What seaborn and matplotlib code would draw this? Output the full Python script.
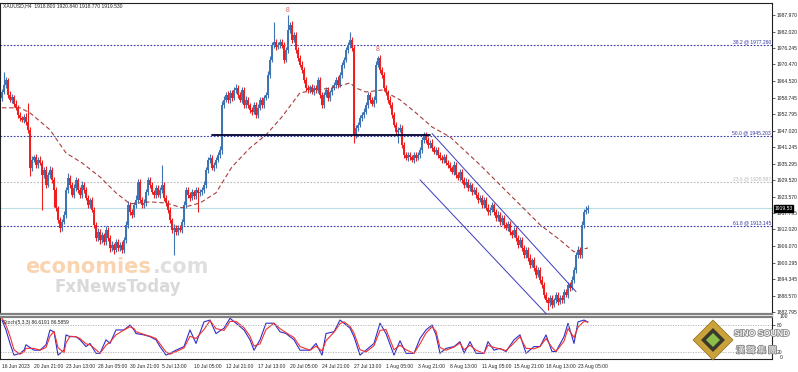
import matplotlib

matplotlib.use("Agg")
import matplotlib.pyplot as plt
import matplotlib.patheffects as pe
import matplotlib.transforms as mtransforms
from matplotlib.patches import Polygon
import numpy as np
import seaborn as sns

sns.set_style("white")
plt.rcParams["font.family"] = ["Liberation Sans", "Noto Sans CJK SC"]

# XAUUSD H4 closes, one per bar (16 Jun 2023 -> 23 Aug 2023)
closes = [
    1960.7, 1963.2, 1965.0, 1959.7, 1957.9, 1959.0, 1956.5, 1955.1, 1952.6, 1951.5,
    1950.8, 1951.9, 1950.1, 1947.3, 1933.8, 1936.7, 1937.7, 1934.9, 1936.7, 1935.6,
    1931.4, 1933.1, 1927.8, 1931.4, 1933.1, 1929.6, 1926.0, 1919.7, 1915.4, 1912.6,
    1914.7, 1917.2, 1926.0, 1930.3, 1927.8, 1924.3, 1926.7, 1929.6, 1926.0, 1924.3,
    1927.8, 1926.0, 1923.2, 1920.7, 1922.5, 1919.0, 1913.7, 1909.0, 1911.2, 1908.3,
    1910.1, 1907.6, 1911.9, 1909.0, 1905.5, 1906.6, 1904.8, 1907.6, 1905.5, 1906.6,
    1904.8, 1908.3, 1913.7, 1920.7, 1918.3, 1917.2, 1920.7, 1922.5, 1928.9, 1922.5,
    1920.7, 1921.4, 1925.3, 1929.6, 1927.8, 1925.3, 1924.3, 1926.7, 1924.3, 1926.0,
    1927.8, 1923.2, 1921.4, 1919.0, 1915.4, 1911.9, 1912.6, 1911.2, 1912.6, 1911.9,
    1914.7, 1920.7, 1926.0, 1924.3, 1923.2, 1925.3, 1923.9, 1926.0, 1925.0, 1925.3,
    1926.0, 1927.8, 1933.1, 1936.7, 1937.4, 1933.8, 1934.9, 1936.7, 1938.4, 1940.2,
    1956.1, 1957.9, 1959.7, 1957.9, 1960.4, 1958.6, 1961.4, 1962.2, 1959.7, 1957.9,
    1961.4, 1956.1, 1957.9, 1956.1, 1954.4, 1953.7, 1956.1, 1952.6, 1955.1, 1957.9,
    1956.1, 1958.6, 1959.7, 1966.8, 1972.1, 1977.4, 1978.4, 1976.7, 1977.4, 1978.4,
    1977.4, 1972.1, 1975.6, 1982.7, 1984.5, 1979.1, 1980.9, 1975.6, 1972.8, 1970.3,
    1968.5, 1965.0, 1962.1, 1961.4, 1962.5, 1960.7, 1962.1, 1961.4, 1965.0, 1959.7,
    1956.1, 1959.7, 1961.4, 1958.6, 1960.7, 1962.1, 1963.2, 1965.0, 1963.2, 1966.8,
    1970.3, 1972.1, 1975.6, 1977.4, 1979.1, 1976.3, 1945.5, 1948.0, 1949.1, 1951.5,
    1952.6, 1953.7, 1956.1, 1959.7, 1957.9, 1956.5, 1957.9, 1970.3, 1972.8, 1968.5,
    1966.8, 1962.1, 1960.7, 1957.9, 1956.1, 1952.6, 1949.1, 1946.6, 1947.3, 1948.0,
    1942.0, 1938.4, 1937.4, 1938.4, 1937.7, 1936.7, 1938.4, 1937.4, 1938.4, 1940.2,
    1943.7, 1945.5, 1943.7, 1942.0, 1942.7, 1940.9, 1939.5, 1940.2, 1938.4, 1937.4,
    1936.7, 1937.7, 1935.6, 1934.9, 1933.8, 1932.4, 1934.9, 1931.4, 1930.3, 1932.4,
    1929.6, 1927.8, 1928.9, 1926.7, 1927.8, 1925.3, 1926.0, 1924.3, 1922.5, 1923.2,
    1920.7, 1922.5, 1919.7, 1918.3, 1919.0, 1920.7, 1918.3, 1916.1, 1917.2, 1914.7,
    1916.1, 1913.7, 1912.6, 1914.0, 1911.2, 1910.1, 1911.9, 1909.0, 1906.6, 1908.3,
    1905.5, 1903.0, 1904.8, 1902.0, 1899.5, 1901.3, 1898.4, 1896.0, 1897.7, 1894.2,
    1892.4, 1888.9, 1887.1, 1886.0, 1887.8, 1885.3, 1887.1, 1888.9, 1886.4, 1887.8,
    1887.1, 1889.9, 1888.9, 1892.4, 1891.3, 1894.2, 1897.7, 1903.0, 1904.8, 1903.0,
    1913.7, 1918.3, 1919.0, 1919.53,
]
first_open = 1958.4

upper_wick = [
    1.2, 4.6, 1.0, 0.8, 1.5, 1.0, 0.7, 1.2, 0.9, 1.1,
    0.8, 1.0, 1.3, 6.7, 1.0, 1.5, 0.8, 1.2, 0.9, 1.4,
    1.0, 1.2, 1.5, 0.8, 1.3, 1.0, 0.9, 1.1, 0.8, 1.0,
    1.2, 1.5, 1.0, 1.8, 0.9, 1.2, 1.4, 1.0, 0.8, 1.1,
    1.3, 0.9, 1.0, 1.2, 0.8, 1.0, 1.1, 0.9, 1.2, 1.0,
    1.1, 0.8, 1.4, 0.9, 1.0, 1.2, 0.8, 1.1, 0.9, 1.0,
    1.2, 1.0, 1.5, 1.3, 1.0, 0.9, 1.2, 1.8, 1.1, 0.9,
    1.0, 1.3, 1.2, 0.9, 1.1, 1.0, 0.8, 1.2, 1.0, 0.9,
    7.0, 1.0, 1.1, 0.9, 1.0, 0.8, 1.2, 1.0, 0.9, 1.1,
    1.0, 1.5, 1.2, 0.9, 1.0, 1.1, 0.8, 1.2, 1.0, 0.9,
    1.1, 1.3, 1.2, 1.0, 1.4, 0.9, 1.0, 1.1, 0.9, 1.2,
    1.5, 1.2, 1.0, 1.3, 0.9, 1.1, 1.0, 1.2, 0.8, 1.0,
    1.1, 0.9, 1.2, 1.0, 0.8, 1.1, 1.0, 0.9, 1.2, 1.0,
    1.0, 1.2, 0.9, 1.5, 1.3, 1.0, 7.0, 1.1, 1.0, 1.2,
    0.9, 1.0, 1.2, 5.3, 0.8, 1.2, 1.0, 0.9, 1.1, 1.0,
    1.2, 0.9, 1.0, 1.1, 0.8, 1.0, 1.2, 0.9, 1.1, 1.0,
    0.9, 1.1, 1.0, 1.2, 0.8, 1.0, 1.1, 0.9, 1.2, 1.0,
    1.1, 1.0, 1.2, 0.9, 3.0, 1.0, 1.2, 0.9, 1.1, 1.0,
    0.9, 1.2, 1.0, 1.1, 0.9, 1.0, 1.2, 1.3, 0.5, 1.0,
    0.9, 1.1, 1.0, 0.8, 1.2, 1.0, 0.9, 1.1, 1.0, 1.2,
    1.0, 0.9, 1.1, 1.0, 1.2, 0.8, 1.0, 1.1, 0.9, 1.0,
    1.2, 1.0, 0.9, 1.1, 1.0, 1.2, 0.8, 1.0, 1.1, 0.9,
    1.0, 1.2, 0.9, 1.1, 1.0, 0.8, 1.2, 1.0, 0.9, 1.1,
    1.0, 0.9, 1.2, 1.0, 1.1, 0.8, 1.0, 1.2, 0.9, 1.0,
    1.1, 1.0, 0.9, 1.2, 1.0, 1.1, 0.8, 1.0, 1.2, 0.9,
    1.0, 1.1, 0.9, 1.2, 1.0, 0.8, 1.1, 1.0, 0.9, 1.2,
    1.0, 0.9, 1.1, 1.0, 1.2, 0.8, 1.0, 1.1, 0.9, 1.0,
    1.2, 1.0, 0.9, 1.1, 1.0, 1.2, 0.8, 1.0, 1.1, 0.9,
    1.0, 1.2, 0.9, 1.1, 1.0, 1.2, 1.0, 1.1, 1.5, 0.9,
    1.2, 1.0, 1.5, 1.3,
]
lower_wick = [
    1.0, 0.8, 1.2, 1.0, 0.9, 1.1, 1.0, 0.8, 1.2, 1.0,
    0.9, 1.1, 1.0, 1.2, 3.0, 1.0, 0.8, 1.2, 1.0, 0.9,
    12.5, 1.0, 1.2, 0.9, 1.1, 1.0, 6.0, 1.2, 1.0, 1.5,
    1.0, 0.9, 1.1, 1.0, 1.2, 0.8, 1.0, 1.1, 0.9, 1.2,
    1.0, 1.1, 0.9, 1.0, 1.2, 0.8, 1.0, 1.1, 0.9, 1.5,
    1.0, 1.2, 0.9, 1.1, 1.3, 1.0, 1.5, 0.9, 1.1, 1.0,
    1.2, 1.0, 0.9, 1.1, 1.0, 1.2, 0.8, 1.0, 1.1, 0.9,
    1.0, 1.2, 0.9, 1.1, 1.0, 0.8, 1.2, 1.0, 0.9, 1.1,
    1.0, 1.2, 0.9, 1.1, 1.0, 1.2, 9.0, 1.0, 1.1, 0.9,
    1.0, 1.2, 0.9, 1.1, 1.0, 0.8, 1.2, 1.0, 6.7, 1.1,
    1.0, 0.9, 1.2, 1.0, 1.1, 0.8, 1.0, 1.2, 0.9, 1.0,
    1.5, 1.0, 0.9, 1.2, 1.0, 1.1, 0.8, 1.0, 1.2, 0.9,
    1.0, 1.2, 0.9, 1.1, 1.0, 1.2, 0.8, 1.0, 1.1, 0.9,
    1.0, 1.2, 0.9, 1.1, 1.0, 0.8, 1.2, 1.0, 0.9, 1.1,
    1.0, 1.2, 0.9, 1.1, 1.0, 1.2, 0.8, 1.0, 1.1, 0.9,
    1.0, 1.2, 0.9, 1.1, 1.0, 0.8, 1.2, 1.0, 0.9, 1.1,
    1.0, 1.2, 0.9, 1.1, 1.0, 1.2, 0.8, 1.0, 1.1, 0.9,
    1.0, 1.2, 0.9, 1.1, 1.0, 1.2, 2.8, 1.0, 1.1, 0.9,
    1.0, 1.2, 0.9, 1.1, 1.0, 0.8, 1.2, 1.0, 0.9, 1.1,
    1.0, 1.2, 0.9, 1.1, 1.0, 1.2, 0.8, 1.0, 4.0, 0.9,
    1.0, 1.2, 0.9, 1.1, 1.0, 0.8, 1.2, 1.0, 0.9, 1.1,
    1.0, 1.2, 0.9, 1.1, 1.0, 1.2, 0.8, 1.0, 1.1, 0.9,
    1.0, 1.2, 0.9, 1.1, 1.0, 0.8, 1.2, 1.0, 0.9, 1.1,
    1.0, 1.2, 0.9, 1.1, 1.0, 1.2, 0.8, 1.0, 1.1, 0.9,
    1.0, 1.2, 0.9, 1.1, 1.0, 0.8, 1.2, 1.0, 0.9, 1.1,
    1.0, 1.2, 0.9, 1.1, 1.0, 1.2, 0.8, 1.0, 1.1, 0.9,
    1.0, 1.2, 0.9, 1.1, 1.0, 0.8, 1.2, 1.0, 0.9, 1.1,
    1.0, 1.2, 0.9, 2.5, 1.0, 1.2, 0.8, 1.0, 1.1, 0.9,
    1.0, 1.2, 0.9, 1.1, 1.0, 0.8, 1.2, 1.0, 0.9, 1.1,
    1.0, 1.2, 0.9, 1.0,
]

# dashed moving average, read at sample bars
ma_idx = [0, 9, 14, 24, 32, 40, 49, 57, 64, 74, 82, 90, 99, 107, 115, 124, 132,
          140, 149, 157, 165, 174, 177, 182, 190, 199, 207, 215, 224, 239, 254,
          269, 279, 286, 293]
ma_val = [1955.1, 1955.1, 1953.3, 1947.3, 1939.1, 1935.6, 1930.6, 1925.0, 1921.1,
          1921.8, 1921.4, 1919.7, 1921.4, 1925.0, 1934.2, 1940.9, 1945.5, 1951.9,
          1960.4, 1961.4, 1962.1, 1963.9, 1962.1, 1960.7, 1961.4, 1957.9, 1953.3,
          1948.3, 1944.8, 1934.9, 1924.3, 1913.7, 1908.3, 1904.1, 1905.5]

# Stochastic (5,3,3)
stoch_idx = [0, 2, 4, 6, 9, 11, 12, 16, 19, 22, 24, 26, 28, 31, 32, 34, 37, 39, 42,
             44, 47, 49, 52, 54, 57, 61, 64, 66, 67, 71, 74, 77, 79, 82, 84, 87, 91,
             94, 97, 101, 104, 107, 111, 114, 117, 121, 124, 126, 129, 132, 136, 139,
             142, 146, 149, 154, 157, 160, 162, 166, 169, 171, 174, 176, 179, 182,
             186, 189, 192, 196, 199, 202, 206, 209, 212, 215, 217, 219, 222, 226,
             229, 231, 234, 237, 241, 243, 246, 249, 252, 256, 259, 262, 266, 269,
             272, 275, 277, 281, 283, 286, 288, 291, 293]
stoch_main = [91, 69, 39, 13, 17, 24, 36, 24, 24, 36, 69, 65, 13, 24, 58, 54, 54,
              47, 32, 39, 17, 17, 47, 39, 69, 69, 80, 69, 61, 58, 54, 47, 32, 13,
              17, 24, 32, 69, 39, 87, 91, 61, 73, 95, 84, 69, 47, 24, 47, 84, 84,
              65, 61, 47, 24, 24, 39, 13, 61, 65, 91, 84, 73, 54, 13, 24, 39, 84,
              61, 13, 45, 17, 17, 50, 69, 80, 58, 17, 28, 32, 43, 17, 43, 17, 17,
              43, 24, 28, 21, 47, 58, 17, 32, 32, 58, 21, 21, 54, 84, 39, 87, 91,
              86.6]
stoch_signal = [95, 80, 55, 25, 15, 20, 28, 28, 24, 30, 55, 66, 30, 18, 40, 55, 54,
                50, 38, 36, 25, 17, 35, 42, 58, 69, 76, 72, 65, 59, 55, 50, 38, 20,
                15, 21, 29, 55, 50, 70, 90, 72, 68, 88, 88, 74, 55, 33, 38, 70, 84,
                72, 63, 52, 32, 24, 33, 22, 45, 64, 83, 87, 77, 62, 25, 20, 34, 68,
                70, 25, 35, 25, 17, 38, 62, 76, 66, 30, 24, 31, 40, 25, 35, 24, 17,
                35, 30, 27, 23, 40, 54, 28, 27, 32, 50, 30, 21, 44, 72, 52, 75, 88,
                86.6]

price_ticks = [1987.970, 1982.020, 1976.245, 1970.470, 1964.520, 1958.745, 1952.795,
               1947.020, 1941.245, 1935.295, 1929.520, 1923.570, 1917.795, 1912.020,
               1906.070, 1900.295, 1894.345, 1888.570, 1882.795]
fib_levels = [1977.260, 1945.203, 1928.887, 1913.145]
fib_labels = ["38.2 @ 1977.260", "50.0 @ 1945.203", "23.6 @ 1928.887", "61.8 @ 1913.145"]
last_price = 1919.53

time_labels = ["16 Jun 2023", "20 Jun 21:00", "23 Jun 13:00", "28 Jun 05:00",
               "30 Jun 21:00", "5 Jul 13:00", "10 Jul 05:00", "12 Jul 21:00",
               "17 Jul 13:00", "20 Jul 05:00", "24 Jul 21:00", "27 Jul 13:00",
               "1 Aug 05:00", "3 Aug 21:00", "8 Aug 13:00", "11 Aug 05:00",
               "15 Aug 21:00", "18 Aug 13:00", "23 Aug 05:00"]

neckline_bars = [105, 214]
neckline_price = 1945.3
channel_upper = ([215, 287], [1946.0, 1890.0])
channel_lower = ([209, 275], [1929.6, 1880.0])
fractal_bars = [143, 188]
fractal_prices = [1989.7, 1975.9]

# ---- figure -------------------------------------------------------------
W, H = 798, 372
SMALL = 3.6
fig = plt.figure(figsize=(W / 100, H / 100), dpi=100)
ax = fig.add_axes([0.0, (H - 314) / H, 772 / W, (314 - 3) / H])
ax2 = fig.add_axes([0.0, (H - 359) / H, 772 / W, (359 - 317) / H])

n = len(closes)
bars = np.arange(n)
opens = np.array([first_open] + closes[:-1])
cl = np.array(closes)
hi = np.maximum(opens, cl) + np.array(upper_wick[:n])
lo = np.minimum(opens, cl) - np.array(lower_wick[:n])
up = cl >= opens
bull, bear = "#3f74b3", "#f01e1e"
colors = np.where(up, bull, bear)

ax.vlines(bars, lo, hi, colors=colors, lw=0.8, zorder=3)
ax.bar(bars, np.maximum(np.abs(cl - opens), 0.3), bottom=np.minimum(opens, cl),
       width=0.85, color=colors, linewidth=0, zorder=4)

sns.lineplot(x=ma_idx, y=ma_val, ax=ax, color="#a83c3c", lw=0.8,
             linestyle=(0, (4, 2.5)), zorder=5)

# fibonacci levels
fib_colors = ["#3535a5", "#3535a5", "#b8b8b8", "#3535a5"]
for lvl, lab, c in zip(fib_levels, fib_labels, fib_colors):
    ax.axhline(lvl, color=c, lw=0.8, ls=(0, (1.5, 1.5)), zorder=2)
    ax.text(384.5, lvl + 0.3, lab, ha="right", va="bottom", fontsize=SMALL, color=c)

ax.axhline(last_price, color="#b8e0e8", lw=0.8, zorder=1)
ax.plot(neckline_bars, [neckline_price] * 2, color="#000033", lw=1.3, zorder=6)
ax.plot(*channel_upper, color="#3a3ac0", lw=0.7, zorder=6)
ax.plot(*channel_lower, color="#3a3ac0", lw=0.7, zorder=6)
for b, p in zip(fractal_bars, fractal_prices):
    ax.text(b, p, "8", ha="center", va="center", fontsize=5, color="#e06060")

ax.set_xlim(-1, 385)
ax.set_ylim(1882.1, 1992.2)
ax.set_xticks([])
ax.yaxis.tick_right()
ax.set_yticks(price_ticks)
ax.set_yticklabels([f"{v:.3f}" for v in price_ticks], fontsize=SMALL)
ax.tick_params(axis="y", length=2, width=0.5, pad=1.2, direction="out")
for s in ax.spines.values():
    s.set_color("#202020")
    s.set_linewidth(0.8)
ax.spines["bottom"].set_color("#808080")
ax.spines["bottom"].set_linewidth(1.6)

trans = mtransforms.blended_transform_factory(ax.transAxes, ax.transData)
ax.text(1.003, last_price, "1919.53", transform=trans, fontsize=SMALL, color="white",
        va="center", ha="left",
        bbox=dict(boxstyle="square,pad=0.15", fc="black", ec="black"))

# watermark
fig.text(25 / W, (H - 273) / H, "economies", fontsize=15, color="#f9c595",
         fontweight="bold", alpha=0.75, family="DejaVu Sans")
fig.text(153 / W, (H - 273) / H, ".com", fontsize=15, color="#d5d5d5",
         fontweight="bold", alpha=0.75, family="DejaVu Sans")
fig.text(55 / W, (H - 292) / H, "FxNewsToday", fontsize=12, color="#d0d0d0",
         fontweight="bold", alpha=0.8, family="DejaVu Sans")

# stochastic panel
sns.lineplot(x=stoch_idx, y=stoch_main, ax=ax2, color="#2f2fc8", lw=0.8)
sns.lineplot(x=stoch_idx, y=stoch_signal, ax=ax2, color="#f03030", lw=0.8)
for lvl in (80, 20):
    ax2.axhline(lvl, color="#b0b0b0", lw=0.6, ls=(0, (1.5, 1.5)))
ax2.set_xlim(-1, 385)
ax2.set_ylim(4.4, 97.8)
ax2.yaxis.tick_right()
ax2.set_yticks([80, 20])
ax2.set_yticklabels(["80", "20"], fontsize=SMALL)
ax2.tick_params(axis="y", length=2, width=0.5, pad=1.2)
ax2.text(1.01, 1.0, "100", transform=ax2.transAxes, fontsize=SMALL, va="center")
ax2.text(1.01, 0.03, "0", transform=ax2.transAxes, fontsize=SMALL, va="center")
ax2.set_xticks(np.arange(0, 16 * len(time_labels), 16))
ax2.set_xticklabels(time_labels, fontsize=SMALL, ha="left")
ax2.tick_params(axis="x", length=2, width=0.5, pad=1.5)
for s in ax2.spines.values():
    s.set_color("#202020")
    s.set_linewidth(0.8)
ax2.spines["top"].set_color("#808080")
ax2.spines["top"].set_linewidth(1.6)
ax2.text(0.004, 0.93, "Stoch(5,3,3) 86.6191 86.5859", transform=ax2.transAxes,
         fontsize=SMALL, va="top")

fig.text(0.004, 0.992, "XAUUSD,H4  1918.800 1920.840 1918.770 1919.530",
         fontsize=SMALL, va="top")

# SINO SOUND logo
def px(x, y):
    return (x / W, (H - y) / H)

fig.patches.append(Polygon([px(713, 320), px(733, 340), px(713, 360), px(693, 340)],
                           closed=True, fc="#c9a23a", ec="#8a6a20", lw=0.5,
                           transform=fig.transFigure, zorder=10))
fig.patches.append(Polygon([px(713, 328), px(725, 340), px(713, 352), px(701, 340)],
                           closed=True, fc="#3a3a2a", ec="none",
                           transform=fig.transFigure, zorder=11))
fig.patches.append(Polygon([px(713, 333), px(720, 340), px(713, 347), px(706, 340)],
                           closed=True, fc="#8cbf4a", ec="none",
                           transform=fig.transFigure, zorder=12))
outline = [pe.withStroke(linewidth=1.2, foreground="#8a8a8a")]
fig.text(*px(734, 336), "SINO SOUND", fontsize=6.3, fontweight="bold",
         color="#f0f0f0", zorder=13, path_effects=outline)
fig.text(*px(736, 353), "漢 聲 集 團", fontsize=6.3, color="#f0f0f0",
         family=["Noto Sans CJK TC", "DejaVu Sans"], zorder=13, path_effects=outline)

fig.savefig("out.png", dpi=100)
